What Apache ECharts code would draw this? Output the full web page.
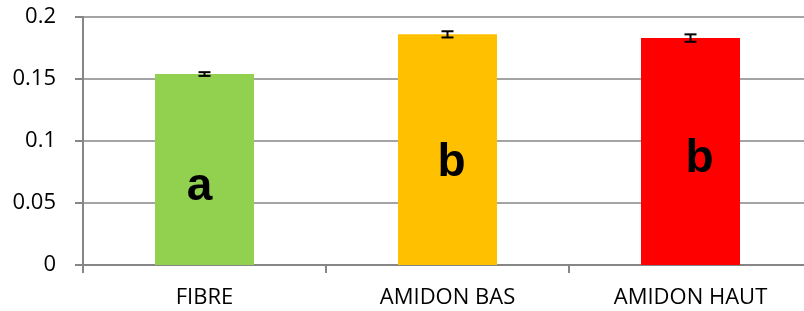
<!DOCTYPE html>
<html>
<head>
<meta charset="utf-8">
<script src="https://cdn.jsdelivr.net/npm/echarts@6/dist/echarts.min.js"></script>
<style>
  html, body { margin: 0; padding: 0; background: #fff; }
  #chart { width: 804px; height: 311px; }
</style>
</head>
<body>
<div id="chart"></div>
<script>
// données
const categories = ['FIBRE', 'AMIDON BAS', 'AMIDON HAUT'];
const values = [0.154, 0.186, 0.183];
const errors = [0.0015, 0.0025, 0.003];
const barColors = ['#92D050', '#FFC000', '#FF0000'];
// lettres de significativité (position y en valeur)
const letters = ['a', 'b', 'b'];
const letterY = [0.063, 0.082, 0.085];

const chart = echarts.init(document.getElementById('chart'), null, { renderer: 'canvas' });

const axisGray = '#868686';
const font = '"Open Sans", sans-serif';
// petits décalages horizontaux des lettres (zones de texte manuelles)
const letterShift = [-5, 4, 9];

const option = {
  animation: false,
  grid: { left: 83, top: 17, width: 729, bottom: 46, outerBoundsMode: 'none' },
  xAxis: {
    type: 'category',
    data: categories,
    axisLine: { lineStyle: { color: axisGray, width: 2 } },
    axisTick: { show: true, length: 8, lineStyle: { color: axisGray, width: 2 } },
    axisLabel: { color: '#000', fontSize: 22, fontFamily: font, margin: 22 }
  },
  yAxis: {
    type: 'value',
    min: 0,
    max: 0.2,
    interval: 0.05,
    axisLine: { show: true, lineStyle: { color: axisGray, width: 2 } },
    axisTick: { show: true, length: 8, lineStyle: { color: axisGray, width: 2 } },
    axisLabel: { color: '#000', fontSize: 22, fontFamily: font, margin: 27 },
    splitLine: { show: true, lineStyle: { color: axisGray, width: 1.5 } }
  },
  series: [
    {
      type: 'bar',
      barWidth: 99,
      data: values.map((v, i) => ({ value: v, itemStyle: { color: barColors[i] } }))
    },
    {
      type: 'custom',
      z: 5,
      data: values.map((v, i) => [i, v - errors[i], v + errors[i]]),
      renderItem: function (params, api) {
        const lo = api.coord([api.value(0), api.value(1)]);
        const hi = api.coord([api.value(0), api.value(2)]);
        const hw = 6;
        const style = { stroke: '#000', lineWidth: 2 };
        return {
          type: 'group',
          children: [
            { type: 'line', shape: { x1: hi[0], y1: hi[1], x2: lo[0], y2: lo[1] }, style: style },
            { type: 'line', shape: { x1: hi[0] - hw, y1: hi[1], x2: hi[0] + hw, y2: hi[1] }, style: style },
            { type: 'line', shape: { x1: lo[0] - hw, y1: lo[1], x2: lo[0] + hw, y2: lo[1] }, style: style }
          ]
        };
      }
    },
    {
      type: 'scatter',
      symbolSize: 0,
      z: 6,
      itemStyle: { opacity: 1 },
      data: letters.map((t, i) => ({
        value: [i, letterY[i]],
        label: { offset: [letterShift[i], 0] }
      })),
      label: {
        show: true,
        position: 'inside',
        formatter: function (p) { return letters[p.dataIndex]; },
        color: '#000',
        opacity: 1,
        fontSize: 46,
        fontWeight: 'bold',
        fontFamily: '"Liberation Sans", Arial, sans-serif'
      }
    }
  ]
};

chart.setOption(option);
</script>
</body>
</html>
